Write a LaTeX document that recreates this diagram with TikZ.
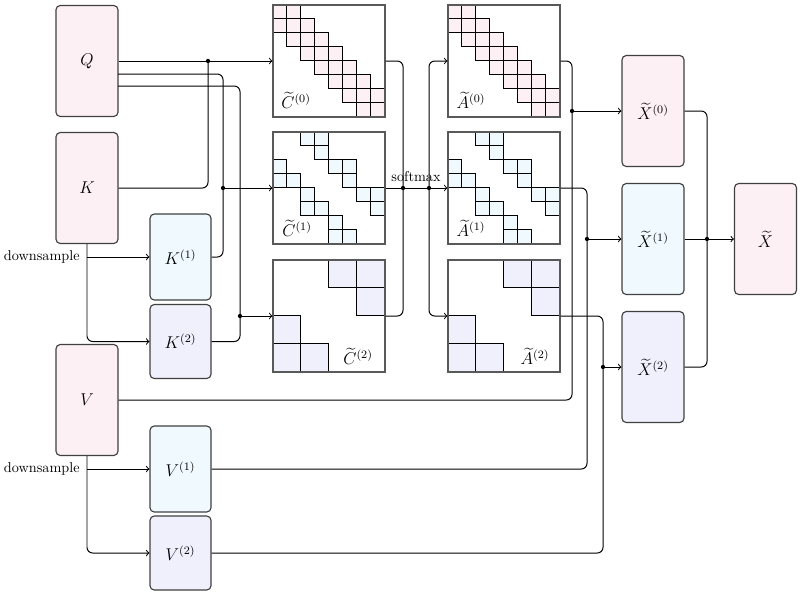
\documentclass[tikz,border=0pt]{standalone}
\usepackage{amsmath}
\usetikzlibrary{backgrounds}
\definecolor{pinkc}{RGB}{252,240,244}
\definecolor{cyanc}{RGB}{240,250,254}
\definecolor{lavc}{RGB}{240,240,252}
\newcommand\pxu{0.7025pt}
\tikzset{
  box/.style={draw=black!75, line width=0.8pt, rounded corners=3pt, inner sep=0pt, font=\large},
  bigbox/.style={box, minimum width=62*\pxu, minimum height=111*\pxu},
  smallbox/.style={box, minimum width=61*\pxu, minimum height=86*\pxu},
  tinybox/.style={box, minimum width=61*\pxu, minimum height=74*\pxu},
  mat/.style={draw=black!65, line width=0.75pt, minimum width=112*\pxu, minimum height=112*\pxu, inner sep=0pt},
  cellbox/.style={draw=black, line width=0.5pt},
  matlabel/.style={inner sep=0pt, font=\large},
  conn/.style={line width=0.7pt, rounded corners=4pt},
  arr/.style={conn, ->},
  dot/.style={fill=black},
}
\begin{document}
\begin{tikzpicture}[x=\pxu, y=-\pxu]
\useasboundingbox (0,0) rectangle (800,593);

% input boxes
\node[bigbox, fill=pinkc] (Q) at (87,61) {$Q$};
\node[bigbox, fill=pinkc] (K) at (87,188) {$K$};
\node[bigbox, fill=pinkc] (V) at (87,400) {$V$};
\node[smallbox, fill=cyanc] (K1) at (180.5,257) {$K^{(1)}$};
\node[tinybox, fill=lavc] (K2) at (180.5,341.5) {$K^{(2)}$};
\node[smallbox, fill=cyanc] (V1) at (180.5,469) {$V^{(1)}$};
\node[tinybox, fill=lavc] (V2) at (180.5,553) {$V^{(2)}$};

% matrices
\node[mat] (C0) at (329,61) {};
\node[mat] (C1) at (329,188) {};
\node[mat] (C2) at (329,316) {};
\node[mat] (A0) at (504,61) {};
\node[mat] (A1) at (504,188) {};
\node[mat] (A2) at (504,316) {};

\begin{pgfonlayer}{background}
\foreach \m in {C0,A0}{
  \foreach \r/\c in {0/0,0/1,1/0,1/1,1/2,2/1,2/2,2/3,3/2,3/3,3/4,4/3,4/4,4/5,5/4,5/5,5/6,6/5,6/6,6/7,7/6,7/7}{
    \draw[cellbox, fill=pinkc, shift={(\m.north west)}] (\c*14,\r*14) rectangle ++(14,14);
  }
}
\foreach \m in {C1,A1}{
  \foreach \r/\c in {0/2,0/3,1/3,2/0,2/4,2/5,3/0,3/1,3/5,4/2,4/6,4/7,5/2,5/3,5/7,6/4,7/4,7/5}{
    \draw[cellbox, fill=cyanc, shift={(\m.north west)}] (\c*14,\r*14) rectangle ++(14,14);
  }
}
\foreach \m in {C2,A2}{
  \foreach \r/\c in {0/2,0/3,1/3,2/0,3/0,3/1}{
    \draw[cellbox, fill=lavc, shift={(\m.north west)}] (\c*28,\r*28) rectangle ++(28,28);
  }
}
\end{pgfonlayer}

\node[matlabel] (lC0) at (296,100) {$\widetilde{C}^{(0)}$};
\node[matlabel] (lC1) at (297,228) {$\widetilde{C}^{(1)}$};
\node[matlabel] (lC2) at (358,356) {$\widetilde{C}^{(2)}$};
\node[matlabel] (lA0) at (471,100) {$\widetilde{A}^{(0)}$};
\node[matlabel] (lA1) at (471,228) {$\widetilde{A}^{(1)}$};
\node[matlabel] (lA2) at (535,356) {$\widetilde{A}^{(2)}$};

% output boxes
\node[bigbox, fill=pinkc] (X0) at (653,111) {$\widetilde{X}^{(0)}$};
\node[bigbox, fill=cyanc] (X1) at (653,239) {$\widetilde{X}^{(1)}$};
\node[bigbox, fill=lavc] (X2) at (653,367) {$\widetilde{X}^{(2)}$};
\node[bigbox, fill=pinkc] (X) at (765.5,239) {$\widetilde{X}$};

% junction coordinates
\coordinate (j1) at (208,61);
\coordinate (q2) at (118,74);
\coordinate (q3) at (118,86);
\coordinate (j2) at (223,188);
\coordinate (j3) at (240,316);
\coordinate (s1) at (403,188);
\coordinate (s2) at (429,188);
\coordinate (x0j) at (572,111);
\coordinate (x1j) at (587,239);
\coordinate (x2j) at (603,367);
\coordinate (xj) at (707,239);

% downsampling
\draw[arr] (K.south) |- (K2.west);
\draw[arr] (K.south |- K1.west) -- (K1.west);
\node[anchor=east, inner sep=0pt] (ds1) at ([xshift=-5pt]K.south |- K1.west) {downsample};
\draw[arr] (V.south) |- (V2.west);
\draw[arr] (V.south |- V1.west) -- (V1.west);
\node[anchor=east, inner sep=0pt] (ds2) at ([xshift=-5pt]V.south |- V1.west) {downsample};

% Q, K into C
\draw[arr] (Q.east) -- (C0.west);
\draw[conn] (K.east) -| (j1);
\draw[conn] (q2) -| (j2);
\draw[conn] (K1.east) -| (j2);
\draw[arr] (j2) -- (C1.west);
\draw[conn] (q3) -| (j3);
\draw[conn] (K2.east) -| (j3);
\draw[arr] (j3) -- (C2.west);

% softmax
\draw[conn] (C0.east) -| (s1);
\draw[conn] (C2.east) -| (s1);
\draw[conn] (C1.east) -- (s2);
\draw[arr] (s2) -- (A1.west);
\draw[arr] (s2) |- (A0.west);
\draw[arr] (s2) |- (A2.west);
\node[anchor=base, inner sep=0pt] (sm) at (416,181) {softmax};

% A, V into X
\draw[conn] (A0.east) -| (x0j);
\draw[conn] (V.east) -| (x0j);
\draw[arr] (x0j) -- (X0.west);
\draw[conn] (A1.east) -| (x1j);
\draw[conn] (V1.east) -| (x1j);
\draw[arr] (x1j) -- (X1.west);
\draw[conn] (A2.east) -| (x2j);
\draw[conn] (V2.east) -| (x2j);
\draw[arr] (x2j) -- (X2.west);

% X merge
\draw[conn] (X0.east) -| (xj);
\draw[conn] (X2.east) -| (xj);
\draw[conn] (X1.east) -- (xj);
\draw[arr] (xj) -- (X.west);

% dots
\foreach \d in {j1,j2,j3,s1,s2,x0j,x1j,x2j,xj}{\fill[dot] (\d) circle (1.5pt);}
\end{tikzpicture}
\end{document}
